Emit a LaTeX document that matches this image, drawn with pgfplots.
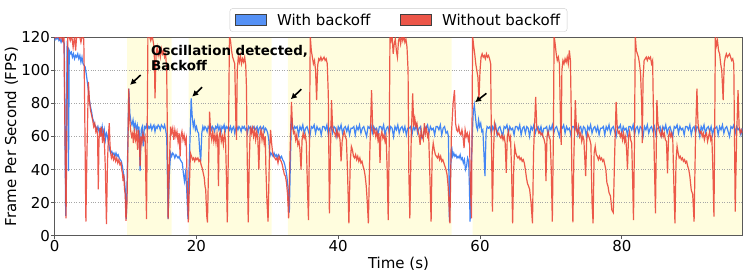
\documentclass[border=0pt]{standalone}
\usepackage{fontspec}
\setmainfont{DejaVu Sans}
\usepackage{pgfplots}
\pgfplotsset{compat=1.18}
\usetikzlibrary{arrows.meta}
\definecolor{bl}{RGB}{66,133,244}
\definecolor{rd}{RGB}{234,67,53}
\definecolor{ylw}{RGB}{255,253,222}
\begin{document}
\begin{tikzpicture}
\begin{axis}[
 set layers,
 scale only axis, width=687.6bp, height=198.4bp,
 xmin=0, xmax=97, ymin=0, ymax=120,
 xtick={0,20,40,60,80}, ytick={0,20,40,60,80,100,120},
 xtick pos=bottom, ytick pos=left, tick align=outside, major tick length=3.5bp,
 tick style={black!65, line width=0.8bp},
 axis line style={black!65, line width=0.9bp},
 ymajorgrids, major grid style={dotted, black!35, line width=0.6bp},
 /pgf/number format/assume math mode=true,
 tick label style={font=\fontsize{15bp}{18bp}\selectfont},
 xticklabel style={inner sep=0pt, anchor=north, yshift=-1bp},
 yticklabel style={inner sep=0pt, anchor=east, xshift=-1bp},
 xlabel={Time (s)}, ylabel={Frame Per Second (FPS)},
 label style={font=\fontsize{15bp}{18bp}\selectfont},
 xlabel style={at={(axis description cs:0.5,-0.105)}, anchor=north, inner sep=0pt},
 ylabel style={at={(axis description cs:-0.0529,0.5)}, anchor=south, inner sep=0pt},
 legend style={at={(0.5,1)}, anchor=south, yshift=5.6bp, legend columns=2,
   draw=black!20, rounded corners=2.5bp, font=\fontsize{15bp}{18bp}\selectfont,
   inner xsep=5bp, inner ysep=3bp,
   /tikz/every even column/.append style={column sep=27.5bp},
   /tikz/every odd column/.append style={column sep=8.5bp}},
 legend cell align=left,
]
\coordinate (ll) at (rel axis cs:0,0);
\addplot[fill=ylw, draw=none, forget plot, on layer=axis background] coordinates {(10.2,0)(10.2,120)(16.5,120)(16.5,0)} \closedcycle;
\addplot[fill=ylw, draw=none, forget plot, on layer=axis background] coordinates {(18.9,0)(18.9,120)(30.6,120)(30.6,0)} \closedcycle;
\addplot[fill=ylw, draw=none, forget plot, on layer=axis background] coordinates {(32.9,0)(32.9,120)(56.0,120)(56.0,0)} \closedcycle;
\addplot[fill=ylw, draw=none, forget plot, on layer=axis background] coordinates {(58.95,0)(58.95,120)(97,120)(97,0)} \closedcycle;

\addlegendimage{legend image code/.code={\draw[sharp corners, fill=bl!90!white, draw=black!75, line width=0.6bp] (0bp,-5.3bp) rectangle (31bp,5.3bp);}}
\addlegendentry{With backoff}
\addlegendimage{legend image code/.code={\draw[sharp corners, fill=rd!90!white, draw=black!75, line width=0.6bp] (0bp,-5.3bp) rectangle (31bp,5.3bp);}}
\addlegendentry{Without backoff}

% With backoff
\addplot[bl, line width=1.2bp, forget plot] coordinates {
(0,118)(0.15,120)(0.3,119)(0.45,120)(0.6,118)(0.75,119)(0.9,117)(1.05,119)(1.2,118)(1.35,116)(1.45,60)(1.55,12)(1.65,70)(1.75,115)(1.85,113)(1.95,39)(2.05,112)(2.2,110)(2.35,111)(2.5,108)(2.65,110)(2.8,107)(2.95,109)(3.1,108)(3.25,110)(3.4,107)(3.55,109)(3.7,105)(3.85,108)(4.0,104)(4.15,103)(4.3,102)(4.45,98)(4.6,93)(4.75,88)(4.9,82)(5.05,78)(5.2,75)(5.35,71)(5.5,69)(5.65,67)(5.8,66)(5.95,64)(6.1,66)(6.25,63)(6.4,65)(6.55,62)(6.7,66)(6.85,60)(7.0,64)(7.15,58)(7.3,62)(7.45,60)(7.6,56)(7.75,52)(7.9,50)(8.05,51)(8.2,49)(8.35,50)(8.5,48)(8.65,50)(8.8,48)(8.95,49)(9.1,47)(9.25,46)(9.4,45)(9.55,42)(9.7,38)(9.85,33)(9.95,28)(10.1,10)(10.25,40)(10.45,89)(10.6,74)(10.75,69)(10.9,67)(11.05,70)(11.2,65)(11.35,68)(11.5,64)(11.65,67)(11.8,63)(11.9,66)(12.05,39)(12.2,64)(12.35,66)(12.5,54)(12.65,66)(12.8,65)(12.95,67)(13.1,64)(13.25,66)(13.4,65)(13.55,67)(13.7,64)(13.85,66)(14.0,67)(14.15,63)(14.3,66)(14.45,65)(14.6,67)(14.75,66)(14.9,64)(15.05,67)(15.2,66)(15.35,65)(15.5,67)(15.65,64)(15.8,60)(15.9,35)(16.0,10)(16.15,35)(16.35,50)(16.5,48)(16.65,50)(16.8,49)(16.95,47)(17.1,49)(17.25,48)(17.4,47)(17.55,48)(17.7,46)(17.85,45)(18.0,44)(18.15,38)(18.3,33)(18.45,38)(18.6,30)(18.8,10)(18.95,40)(19.1,60)(19.25,83)(19.4,72)(19.55,66)(19.7,69)(19.85,64)(20.0,66)(20.15,63)(20.3,62)(20.45,52)(20.6,45)(20.75,62)(20.9,66)(21.05,64)(21.2,66)(21.35,65)(21.5,63)(21.65,66)(21.8,65)(21.95,67)(22.1,64)(22.25,66)(22.4,65)(22.55,63)(22.7,66)(22.85,65)(23.0,67)(23.15,64)(23.3,66)(23.45,62)(23.6,66)(23.75,65)(23.9,67)(24.05,63)(24.2,66)(24.35,65)(24.5,66)(24.65,64)(24.8,66)(24.95,63)(25.1,65)(25.25,66)(25.4,62)(25.55,65)(25.7,66)(25.85,64)(26.0,66)(26.15,65)(26.3,63)(26.45,66)(26.6,65)(26.75,66)(26.9,64)(27.05,65)(27.2,62)(27.35,66)(27.5,65)(27.65,66)(27.8,63)(27.95,65)(28.1,66)(28.25,64)(28.4,65)(28.55,66)(28.7,62)(28.85,65)(29.0,66)(29.15,64)(29.3,65)(29.45,66)(29.6,63)(29.75,65)(29.9,64)(30.05,62)(30.2,58)(30.35,48)(30.5,50)(30.65,49)(30.8,48)(30.95,50)(31.1,48)(31.25,49)(31.4,47)(31.55,49)(31.7,48)(31.85,47)(32.0,48)(32.15,46)(32.3,45)(32.45,43)(32.6,40)(32.75,36)(32.9,30)(33.0,25)(33.1,14)(33.25,45)(33.4,72)(33.55,66)(33.7,64)(33.85,66)
(34.0,65)(34.2,66)(34.4,61)(34.6,66)(34.8,64)(35.0,67)(35.2,62)(35.4,65)(35.6,66)(35.8,63)(36.0,60)(36.2,66)(36.4,65)(36.6,67)(36.8,62)(37.0,66)(37.2,64)(37.4,65)(37.6,61)(37.8,66)
(38.0,66)(38.2,64)(38.4,67)(38.6,61)(38.8,65)(39.0,66)(39.2,62)(39.4,66)(39.6,65)(39.8,60)(40.0,66)(40.2,64)(40.4,67)(40.6,62)(40.8,65)(41.0,66)(41.2,63)(41.4,66)(41.6,61)(41.8,65)
(42.0,65)(42.2,66)(42.4,61)(42.6,66)(42.8,64)(43.0,67)(43.2,62)(43.4,65)(43.6,66)(43.8,63)(44.0,60)(44.2,66)(44.4,65)(44.6,67)(44.8,62)(45.0,66)(45.2,64)(45.4,65)(45.6,61)(45.8,66)
(46.0,66)(46.2,64)(46.4,67)(46.6,61)(46.8,65)(47.0,66)(47.2,62)(47.4,66)(47.6,65)(47.8,60)(48.0,66)(48.2,64)(48.4,67)(48.6,62)(48.8,65)(49.0,66)(49.2,63)(49.4,66)(49.6,61)(49.8,65)
(50.0,65)(50.2,66)(50.4,61)(50.6,66)(50.8,64)(51.0,67)(51.2,62)(51.4,65)(51.6,66)(51.8,59)(52.0,60)(52.2,66)(52.4,65)(52.6,67)(52.8,62)(53.0,66)(53.2,64)(53.4,65)(53.6,61)(53.8,66)
(54.0,66)(54.2,64)(54.4,67)(54.6,61)(54.8,65)(55.0,66)(55.2,62)(55.4,63)
(55.55,60)(55.68,8.5)(55.85,40)(56.0,54)(56.15,48)(56.3,50)(56.45,48)(56.6,49)(56.75,47)(56.9,48)(57.05,47)(57.2,49)(57.35,46)(57.5,47)(57.65,44)(57.8,46)(57.95,40)(58.1,42)(58.25,47)(58.4,45)(58.5,30)(58.6,8.5)(58.75,40)(58.9,60)(59.05,75)(59.2,79)(59.35,72)(59.5,66)(59.65,64)(59.8,70)(59.95,66)(60.1,68)(60.25,63)(60.4,64)(60.55,50)(60.7,36)(60.85,62)(61.0,66)
(61.2,65)(61.4,66)(61.6,62)(61.8,66)(62.0,64)(62.2,67)(62.4,61)(62.6,65)(62.8,66)(63.0,63)(63.2,60)(63.4,66)(63.6,65)(63.8,67)(64.0,62)(64.2,66)(64.4,64)(64.6,65)(64.8,61)(65.0,66)
(65.2,66)(65.4,64)(65.6,67)(65.8,61)(66.0,65)(66.2,66)(66.4,62)(66.6,66)(66.8,65)(67.0,60)(67.2,66)(67.4,64)(67.6,67)(67.8,62)(68.0,65)(68.2,66)(68.4,63)(68.6,66)(68.8,61)(69.0,65)
(69.2,65)(69.4,66)(69.6,61)(69.8,66)(70.0,64)(70.2,67)(70.4,62)(70.6,65)(70.8,66)(71.0,63)(71.2,60)(71.4,66)(71.6,65)(71.8,67)(72.0,62)(72.2,66)(72.4,64)(72.6,65)(72.8,61)(73.0,66)
(73.2,66)(73.4,64)(73.6,67)(73.8,61)(74.0,65)(74.2,66)(74.4,62)(74.6,66)(74.8,65)(75.0,60)(75.2,66)(75.4,64)(75.6,67)(75.8,62)(76.0,65)(76.2,66)(76.4,63)(76.6,66)(76.8,61)(77.0,65)
(77.2,65)(77.4,66)(77.6,61)(77.8,66)(78.0,64)(78.2,67)(78.4,62)(78.6,65)(78.8,66)(79.0,63)(79.2,60)(79.4,66)(79.6,65)(79.8,67)(80.0,62)(80.2,66)(80.4,64)(80.6,65)(80.8,61)(81.0,66)
(81.2,66)(81.4,64)(81.6,67)(81.8,61)(82.0,65)(82.2,66)(82.4,62)(82.6,66)(82.8,65)(83.0,60)(83.2,66)(83.4,64)(83.6,67)(83.8,62)(84.0,65)(84.2,66)(84.4,63)(84.6,66)(84.8,61)(85.0,65)
(85.2,65)(85.4,66)(85.6,61)(85.8,66)(86.0,64)(86.2,67)(86.4,62)(86.6,65)(86.8,66)(87.0,63)(87.2,60)(87.4,66)(87.6,65)(87.8,67)(88.0,62)(88.2,66)(88.4,64)(88.6,65)(88.8,61)(89.0,66)
(89.2,66)(89.4,64)(89.6,67)(89.8,61)(90.0,65)(90.2,66)(90.4,62)(90.6,66)(90.8,65)(91.0,60)(91.2,66)(91.4,64)(91.6,67)(91.8,62)(92.0,65)(92.2,66)(92.4,63)(92.6,66)(92.8,61)(93.0,65)
(93.2,65)(93.4,66)(93.6,61)(93.8,66)(94.0,64)(94.2,67)(94.4,62)(94.6,65)(94.8,66)(95.0,63)(95.2,60)(95.4,66)(95.6,65)(95.8,67)(96.0,62)(96.2,66)(96.4,64)(96.6,65)(96.8,61)(97.0,65)
};

% Without backoff
\addplot[rd, line width=1.2bp, opacity=0.88, forget plot] coordinates {
(0,119)(0.1,121)(0.3,120)(0.5,121)(0.7,119)(0.9,121)(1.1,118)(1.3,121)(1.45,60)(1.6,10.5)(1.75,80)(1.85,121)
(2.0,121)(2.2,118)(2.4,121)(2.6,114)(2.8,121)(2.95,112)(3.1,121)(3.3,120)(3.5,121)(3.7,117)(3.9,121)(4.1,119)(4.2,90)(4.4,8.5)
(4.55,50)(4.75,93)(4.9,82)(5.05,76)(5.2,73)(5.35,70)(5.5,66)(5.65,68)(5.8,63)(5.95,65)(6.05,60)(6.15,28)(6.25,58)(6.4,65)(6.5,60)(6.6,66)(6.75,56)(6.9,62)(7.0,58)(7.15,40)(7.3,7)
(7.45,45)(7.6,62)(7.7,68)(7.8,55)(7.9,50)(8.0,47)(8.15,49)(8.3,46)(8.45,48)(8.6,45)(8.75,47)(8.9,44)(9.05,46)(9.2,43)(9.35,44)(9.45,40)(9.55,38)(9.65,33)(9.75,37)(9.85,28)(9.95,25)(10.05,9)
(10.2,20)(10.35,60)(10.45,89)(10.55,72)(10.7,64)(10.85,60)(11.0,62)(11.1,56)(11.25,63)(11.4,58)(11.55,62)(11.7,52)(11.8,64)(11.95,57)(12.05,42)(12.15,60)(12.3,56)(12.45,62)(12.6,58)(12.75,60)(12.85,35)(12.95,10)
(13.05,60)(13.15,121)(13.35,121)(13.55,118)(13.75,121)(13.95,116)(14.05,110)(14.15,83)(14.3,110)(14.45,114)(14.6,109)(14.75,112)(14.9,108)(15.05,113)(15.2,110)(15.35,112)(15.5,108)(15.65,110)(15.8,100)(15.9,60)(16.0,10)
(16.15,40)(16.35,66)(16.5,62)(16.65,65)(16.8,58)(16.95,64)(17.1,60)(17.25,63)(17.4,57)(17.55,62)(17.7,48)(17.8,60)(17.95,63)(18.1,58)(18.25,61)(18.4,56)(18.55,59)(18.7,30)(18.85,8)
(19.0,30)(19.15,50)(19.3,48)(19.45,46)(19.6,47)(19.75,45)(19.9,47)(20.05,46)(20.2,47)(20.35,45)(20.5,46)(20.65,43)(20.8,41)(20.95,38)(21.1,35)(21.2,30)(21.3,28)(21.45,12)(21.55,8)
(21.7,40)(21.85,75)(22.0,62)(22.15,58)(22.3,63)(22.45,57)(22.6,61)(22.75,56)(22.9,62)(23.0,58)(23.1,30)(23.2,60)(23.35,63)(23.5,57)(23.65,60)(23.8,55)(23.95,62)(24.1,58)(24.2,40)(24.35,8)
(24.5,50)(24.65,121)(24.8,118)(24.95,112)(25.1,108)(25.25,106)(25.4,104)(25.55,70)(25.65,58)(25.75,100)(25.9,108)(26.05,105)(26.2,109)(26.35,104)(26.5,107)(26.65,105)(26.8,108)(26.95,103)(27.05,90)(27.15,50)(27.3,8)
(27.45,45)(27.6,66)(27.75,62)(27.9,65)(28.05,60)(28.2,64)(28.35,58)(28.5,63)(28.65,59)(28.8,40)(28.95,61)(29.1,64)(29.25,58)(29.4,62)(29.55,56)(29.7,60)(29.8,40)(29.95,20)(30.1,8.5)
(30.3,50)(30.45,64)(30.6,56)(30.75,50)(30.9,48)(31.05,47)(31.2,46)(31.35,47)(31.5,44)(31.65,48)(31.8,46)(31.95,45)(32.1,43)(32.25,40)(32.4,37)(32.55,36)(32.7,32)(32.85,25)(33.0,10.5)
(33.2,50)(33.4,81)(33.55,66)(33.7,62)(33.85,63)(34.0,58)(34.15,61)(34.3,55)(34.45,57)(34.6,52)(34.75,40)(34.9,58)(35.05,62)(35.2,59)(35.35,61)(35.5,56)(35.65,30)(35.8,9.5)
(35.95,60)(36.05,121)(36.2,112)(36.35,108)(36.5,104)(36.65,106)(36.8,100)(36.95,82)(37.1,103)(37.25,107)(37.4,106)(37.55,108)(37.7,106)(37.85,107)(38.0,108)(38.15,106)(38.3,107)(38.45,104)(38.6,85)(38.75,13.5)
(38.9,50)(39.05,82)(39.2,66)(39.35,63)(39.5,62)(39.65,60)(39.8,64)(39.95,60)(40.1,62)(40.25,58)(40.4,45)(40.55,57)(40.7,61)(40.85,63)(41.0,60)(41.15,58)(41.3,40)(41.5,7.5)
(41.7,45)(41.85,54)(42.0,52)(42.15,48)(42.3,47)(42.45,49)(42.6,46)(42.75,48)(42.9,45)(43.05,47)(43.2,44)(43.35,45)(43.5,42)(43.65,40)(43.8,36)(43.95,30)(44.1,20)(44.25,7.5)
(44.45,50)(44.7,88)(44.85,66)(45.0,62)(45.15,64)(45.3,60)(45.45,63)(45.6,58)(45.75,62)(45.9,44)(46.0,60)(46.15,63)(46.3,59)(46.45,61)(46.6,57)(46.75,60)(46.9,40)(47.05,9.5)
(47.2,60)(47.3,121)(47.45,118)(47.6,121)(47.75,110)(47.9,116)(48.05,119)(48.2,112)(48.35,108)(48.5,118)(48.65,120)(48.8,116)(48.95,121)(49.1,118)(49.25,121)(49.4,117)(49.55,119)(49.7,114)(49.85,100)(49.95,40)(50.1,10.5)
(50.3,60)(50.5,86)(50.65,66)(50.8,71)(50.95,66)(51.1,68)(51.25,63)(51.4,61)(51.55,55)(51.7,64)(51.85,60)(52.0,58)(52.15,68)(52.3,62)(52.45,65)(52.6,60)(52.75,62)(52.9,40)(53.1,8.5)
(53.25,50)(53.4,56)(53.55,52)(53.7,49)(53.85,48)(54.0,47)(54.15,49)(54.3,46)(54.45,48)(54.6,45)(54.75,46)(54.9,44)(55.05,42)(55.2,40)(55.35,37)(55.5,30)(55.75,7.5)
(55.95,60)(56.2,80)(56.4,88)(56.55,68)(56.7,64)(56.85,63)(57.0,66)(57.15,62)(57.3,61)(57.45,64)(57.6,60)(57.75,53)(57.9,64)(58.05,60)(58.2,62)(58.35,58)(58.5,61)(58.65,30)(58.8,10.5)
(58.95,121)(59.1,115)(59.25,110)(59.4,104)(59.55,100)(59.7,96)(59.85,82)(60.0,100)(60.15,108)(60.3,110)(60.45,108)(60.6,109)(60.75,107)(60.9,110)(61.05,108)(61.2,109)(61.35,107)(61.5,104)(61.6,60)(61.75,14.5)
(61.9,50)(62.05,68)(62.2,65)(62.35,63)(62.5,61)(62.65,62)(62.8,60)(62.95,59)(63.1,61)(63.25,58)(63.4,60)(63.55,56)(63.7,38)(63.85,60)(64.0,63)(64.15,58)(64.3,60)(64.45,40)(64.6,7.5)
(64.75,40)(64.9,54)(65.05,50)(65.2,48)(65.35,47)(65.5,48)(65.65,46)(65.8,47)(65.95,45)(66.1,46)(66.25,44)(66.4,40)(66.55,35)(66.7,31.5)(66.85,30)(67.0,28)(67.2,20)(67.4,7.5)
(67.55,50)(67.85,84)(68.0,66)(68.15,64)(68.3,62)(68.45,63)(68.6,61)(68.75,62)(68.9,60)(69.05,58)(69.2,55)(69.3,33)(69.45,60)(69.6,63)(69.75,60)(69.9,58)(70.05,40)(70.2,8.5)
(70.35,60)(70.45,121)(70.6,116)(70.75,110)(70.9,106)(71.05,108)(71.2,104)(71.35,70)(71.45,55)(71.55,100)(71.7,106)(71.85,104)(72.0,107)(72.15,105)(72.3,108)(72.45,104)(72.6,112)(72.75,106)(72.85,80)(72.95,40)(73.1,8)
(73.25,50)(73.45,82)(73.6,64)(73.75,62)(73.9,66)(74.05,60)(74.2,62)(74.35,57)(74.5,60)(74.65,58)(74.8,45)(74.9,36)(75.05,58)(75.2,62)(75.35,60)(75.5,58)(75.65,55)(75.8,20)(75.95,7.5)
(76.1,50)(76.25,54)(76.4,49)(76.55,48)(76.7,46)(76.85,48)(77.0,46)(77.15,47)(77.3,45)(77.45,46)(77.6,43)(77.75,40)(77.9,32)(78.05,30)(78.2,26)(78.4,24)(78.6,15.5)(78.8,14)
(79.0,50)(79.2,81)(79.35,66)(79.5,62)(79.65,63)(79.8,60)(79.95,62)(80.1,58)(80.25,62)(80.4,57)(80.55,60)(80.7,50)(80.8,40)(80.95,60)(81.1,63)(81.25,58)(81.4,56)(81.55,30)(81.65,9.5)
(81.8,60)(81.9,121)(82.05,112)(82.2,110)(82.35,108)(82.5,104)(82.65,98)(82.8,80)(82.9,56)(83.0,95)(83.15,106)(83.3,107)(83.45,108)(83.6,106)(83.75,108)(83.9,107)(84.05,108)(84.2,104)(84.35,106)(84.5,64)(84.75,13.5)
(84.95,82)(85.1,68)(85.25,64)(85.4,62)(85.55,60)(85.7,64)(85.85,60)(86.0,62)(86.15,58)(86.3,57)(86.45,37.7)(86.6,60)(86.75,63)(86.9,60)(87.05,62)(87.2,57)(87.35,30)(87.5,7.5)
(87.65,45)(87.8,54)(87.95,50)(88.1,47)(88.25,48)(88.4,46)(88.55,47)(88.7,45)(88.85,46)(89.0,44)(89.15,45)(89.3,42)(89.45,40)(89.6,36)(89.8,27.6)(90.0,25)(90.2,8.5)
(90.4,60)(90.6,89)(90.75,68)(90.9,64)(91.05,62)(91.2,63)(91.35,60)(91.5,62)(91.65,58)(91.8,61)(91.95,62)(92.1,57)(92.25,60)(92.4,63)(92.55,58)(92.7,60)(92.85,40)(93.0,11.5)
(93.1,60)(93.2,121)(93.35,115)(93.5,118)(93.65,112)(93.8,110)(93.95,104)(94.1,100)(94.3,82)(94.45,104)(94.6,108)(94.75,110)(94.9,108)(95.05,109)(95.2,110)(95.35,108)(95.5,106)(95.65,107)(95.8,104)(95.9,60)(96.0,14.5)
(96.2,60)(96.4,88)(96.55,66)(96.7,62)(96.85,64)(97.0,62)
};

\node[anchor=north west, align=left, inner sep=0pt, font=\fontsize{13.4bp}{15bp}\selectfont\bfseries] at (axis cs:13.58,115.4) {Oscillation detected,\\Backoff};
\draw[-{Latex[length=6bp,width=6.5bp]}, line width=1.6bp] (axis cs:12.13,97.2) -- (axis cs:10.63,91.2);
\draw[-{Latex[length=6bp,width=6.5bp]}, line width=1.6bp] (axis cs:20.8,89.8) -- (axis cs:19.4,84.1);
\draw[-{Latex[length=6bp,width=6.5bp]}, line width=1.6bp] (axis cs:34.8,88.6) -- (axis cs:33.3,82.5);
\draw[-{Latex[length=6bp,width=6.5bp]}, line width=1.6bp] (axis cs:60.9,86.1) -- (axis cs:59.3,80.7);
\end{axis}
\pgfresetboundingbox
\path (ll) ++(-54.7bp,-43.3bp) rectangle ++(748bp,279bp);
\end{tikzpicture}
\end{document}
